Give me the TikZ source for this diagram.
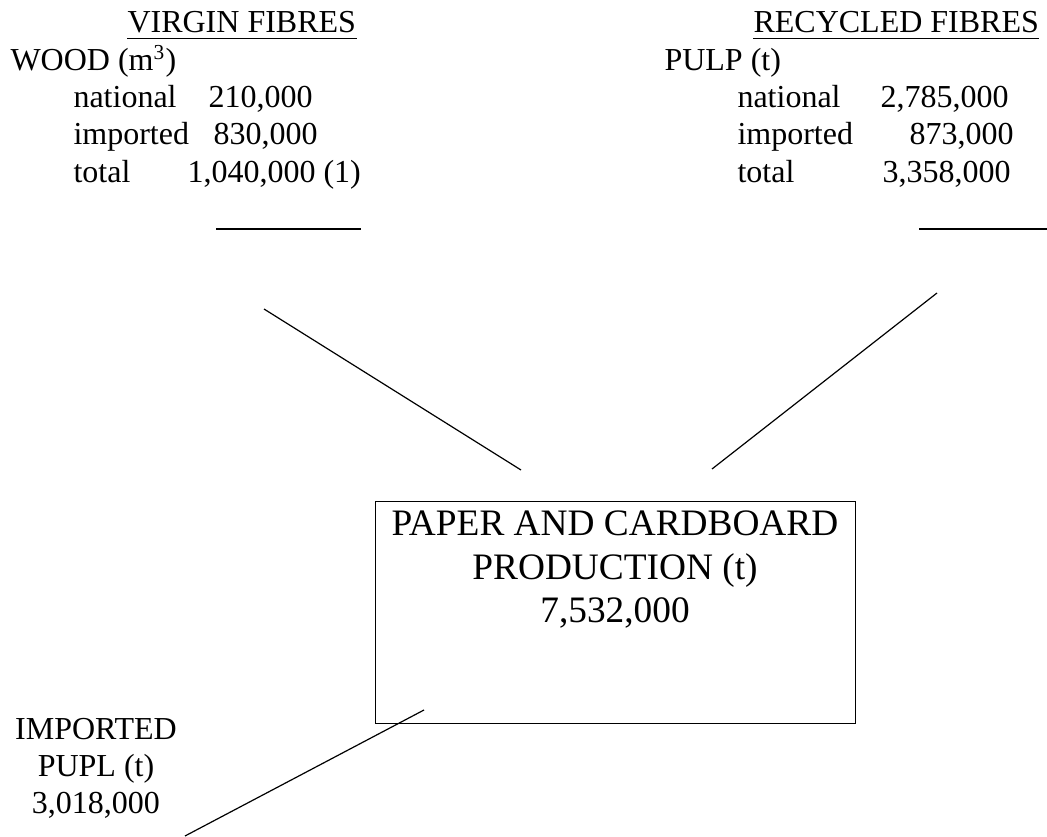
\documentclass[tikz,border=0pt]{standalone}
\usepackage{fontspec}
\setmainfont{Liberation Serif}
\begin{document}
\begin{tikzpicture}[x=0.375pt,y=-0.375pt,
        txt/.style={anchor=base west,inner sep=0pt,font=\fontsize{12}{14}\selectfont},
        ctr/.style={anchor=base,inner sep=0pt,font=\fontsize{12}{14}\selectfont},
        big/.style={anchor=base,inner sep=0pt,font=\fontsize{14}{16}\selectfont},
        link/.style={line width=0.45pt}]
        \useasboundingbox (0,0) rectangle (1047,837);
        % virgin fibres
        \node[txt] (vf)    at (127,33)  {VIRGIN FIBRES};
        \node[txt] (wood)  at (10,71)   {WOOD (m\textsuperscript{3})};
        \node[txt] (wn)    at (73,108)  {national};
        \node[txt] (wnv)   at (208,108) {210,000};
        \node[txt] (wi)    at (73,145)  {imported};
        \node[txt] (wiv)   at (213,145) {830,000};
        \node[txt] (wt)    at (73,183)  {total};
        \node[txt] (wtv)   at (187,183) {1,040,000 (1)};
        % recycled fibres
        \node[txt] (rf)    at (753,33)  {RECYCLED FIBRES};
        \node[txt] (pulp)  at (664,71)  {PULP (t)};
        \node[txt] (pn)    at (737,108) {national};
        \node[txt] (pnv)   at (880,108) {2,785,000};
        \node[txt] (pi)    at (737,145) {imported};
        \node[txt] (piv)   at (909,145) {873,000};
        \node[txt] (pt)    at (737,183) {total};
        \node[txt] (ptv)   at (882,183) {3,358,000};
        \draw[line width=0.55pt] ([yshift=-2.1pt]vf.base west) -- ([yshift=-2.1pt]vf.base east);
        \draw[line width=0.55pt] ([yshift=-2.1pt]rf.base west) -- ([yshift=-2.1pt]rf.base east);
        % total rules
        \coordinate (wr1) at (216,229);
        \coordinate (wr2) at (361,229);
        \coordinate (pr1) at (919,229);
        \coordinate (pr2) at (1047,229);
        \draw[line width=0.55pt] (wr1) -- (wr2);
        \draw[line width=0.55pt] (pr1) -- (pr2);
        % production
        \node[draw,line width=0.55pt,anchor=north west,inner sep=0pt,
              minimum width=180pt,minimum height=83.25pt] (prod) at (375,501) {};
        \node[big] (prod1) at (615,536) {PAPER AND CARDBOARD};
        \node[big] (prod2) at (615,580) {PRODUCTION (t)};
        \node[big] (prod3) at (615,623) {7,532,000};
        % imported pulp
        \node[ctr] (imp1) at (96,739) {IMPORTED};
        \node[ctr] (imp2) at (96,776) {PUPL (t)};
        \node[ctr] (imp3) at (96,813) {3,018,000};
        % connectors
        \coordinate (l1) at (264,309);
        \coordinate (l2) at (521,470);
        \coordinate (r1) at (937,293);
        \coordinate (r2) at (712,469);
        \coordinate (b1) at (185,836);
        \coordinate (b2) at (424,710);
        \draw[link] (l1) -- (l2);
        \draw[link] (r1) -- (r2);
        \draw[link] (b1) -- (b2);
    \end{tikzpicture}
\end{document}
